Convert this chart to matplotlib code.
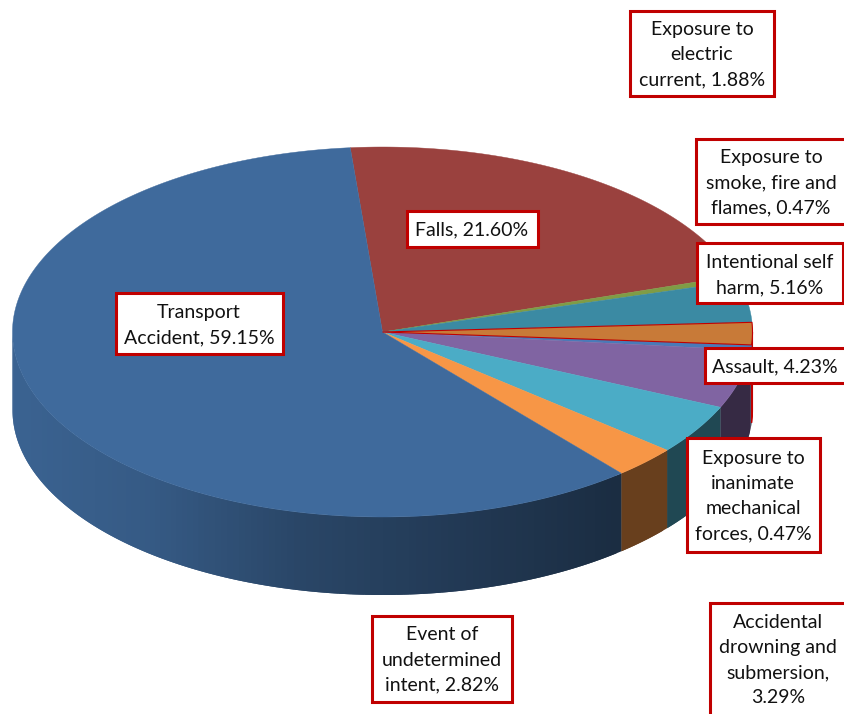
import numpy as np
import matplotlib
matplotlib.use("Agg")
import matplotlib.pyplot as plt
from matplotlib.patches import Polygon, Rectangle

plt.rcParams['font.family'] = ['Lato', 'DejaVu Sans']

# --- data (clockwise from the top of the pie) ---
categories = ["Falls", "Exposure to smoke, fire and flames", "Assault",
              "Exposure to electric current", "Exposure to inanimate mechanical forces",
              "Intentional self harm", "Accidental drowning and submersion",
              "Event of undetermined intent", "Transport Accident"]
values = [21.60, 0.47, 4.23, 1.88, 0.47, 5.16, 3.29, 2.82, 59.15]
colors = ["#9a413e", "#7f9c46", "#3b8aa3", "#c87a38", "#4a7ab8",
          "#8064a2", "#4bacc6", "#f79646", "#3f6a9c"]
edge_colors = [None, None, None, "#c00000", None, None, None, None, None]

label_lines = ["Falls, 21.60%",
               "Exposure to\nsmoke, fire and\nflames, 0.47%",
               "Assault, 4.23%",
               "Exposure to\nelectric\ncurrent, 1.88%",
               "Exposure to\ninanimate\nmechanical\nforces, 0.47%",
               "Intentional self\nharm, 5.16%",
               "Accidental\ndrowning and\nsubmersion,\n3.29%",
               "Event of\nundetermined\nintent, 2.82%",
               "Transport\nAccident, 59.15%"]
# box left, top, right, bottom in pixels; text centre x, y
label_boxes = [(407, 211, 538, 247), (696, 139, 848, 224), (705, 348, 848, 383),
               (630, 11, 774, 96), (687, 438, 820, 552), (697, 243, 843, 303),
               (710, 603, 850, 720), (372, 616, 512, 702), (116, 293, 283, 354)]
label_centres = [(472, 230), (771, 183), (775, 367), (702, 55), (753, 496),
                 (770, 275), (778, 660), (442, 660), (199, 325)]

# --- layout ---
W, H = 845, 714
CX, CY, RX, RY, DEPTH = 382.5, 332, 370, 185, 78
START = -5.0
SHADE_X = [13, 150, 300, 620, 845]
SHADE_F = [0.93, 0.85, 0.66, 0.42, 0.42]
# perspective of the 3-D pie: true sweep angle -> drawn ellipse angle
PERSP_IN = [-5.0, 75.2, 90.57, 97.4, 117.85, 129.81, 140.06, 355.0]
PERSP_OUT = [-5.0, 74.0, 87.0, 94.0, 114.0, 129.7, 139.8, 355.0]

fig = plt.figure(figsize=(W / 100, H / 100), dpi=100)
ax = fig.add_axes([0, 0, 1, 1])
ax.set_xlim(0, W)
ax.set_ylim(H, 0)
ax.axis("off")


def pt(t):
    t = np.radians(t)
    return CX + RX * np.sin(t), CY - RY * np.cos(t)


angles = START + np.concatenate([[0], np.cumsum(values)]) * 360 / sum(values)
angles = np.interp(angles, PERSP_IN, PERSP_OUT)
rgb = [np.array(matplotlib.colors.to_rgb(c)) for c in colors]

# side walls
for i in range(len(values)):
    a, b = max(angles[i], 90), min(angles[i + 1], 270)
    if b <= a:
        continue
    if edge_colors[i]:
        ts = np.linspace(a, b, 8)
        xs, ys = pt(ts)
        ax.add_patch(Polygon(list(zip(xs, ys)) + list(zip(xs[::-1], ys[::-1] + DEPTH)),
                             closed=True, facecolor=rgb[i] * 0.42,
                             edgecolor=edge_colors[i], lw=0.8, zorder=2.5))
        continue
    steps = np.append(np.arange(a, b, 1.0), b)
    for n, s in enumerate(steps[:-1]):
        # each band reaches one step further; the next band paints over it, so no seams
        mid_x = pt((s + steps[n + 1]) / 2)[0]
        col = rgb[i] * np.interp(mid_x, SHADE_X, SHADE_F)
        e = steps[min(n + 2, len(steps) - 1)]
        ts = np.linspace(s, e, 4)
        xs, ys = pt(ts)
        ax.add_patch(Polygon(list(zip(xs, ys)) + list(zip(xs[::-1], ys[::-1] + DEPTH)),
                             closed=True, facecolor=col, edgecolor="none", zorder=2))

# top faces
for i in range(len(values)):
    ts = np.linspace(angles[i], angles[i + 1], max(3, int((angles[i + 1] - angles[i]) * 2)))
    xs, ys = pt(ts)
    verts = [(CX, CY)] + list(zip(xs, ys))
    ec = edge_colors[i] or colors[i]
    ax.add_patch(Polygon(verts, closed=True, facecolor=colors[i], edgecolor=ec,
                         lw=0.8 if edge_colors[i] else 0.3, zorder=3 + (1 if edge_colors[i] else 0)))

# labels
for text, box, c in zip(label_lines, label_boxes, label_centres):
    l, t, r, b = box
    ax.add_patch(Rectangle((l, t), r - l, b - t, facecolor="white", edgecolor="#c00000",
                           lw=2.2, zorder=6))
    ax.text(c[0], c[1], text, ha="center", va="center", fontsize=14, color="#111111",
            linespacing=1.59, zorder=7)

fig.savefig("out.png", dpi=100)
